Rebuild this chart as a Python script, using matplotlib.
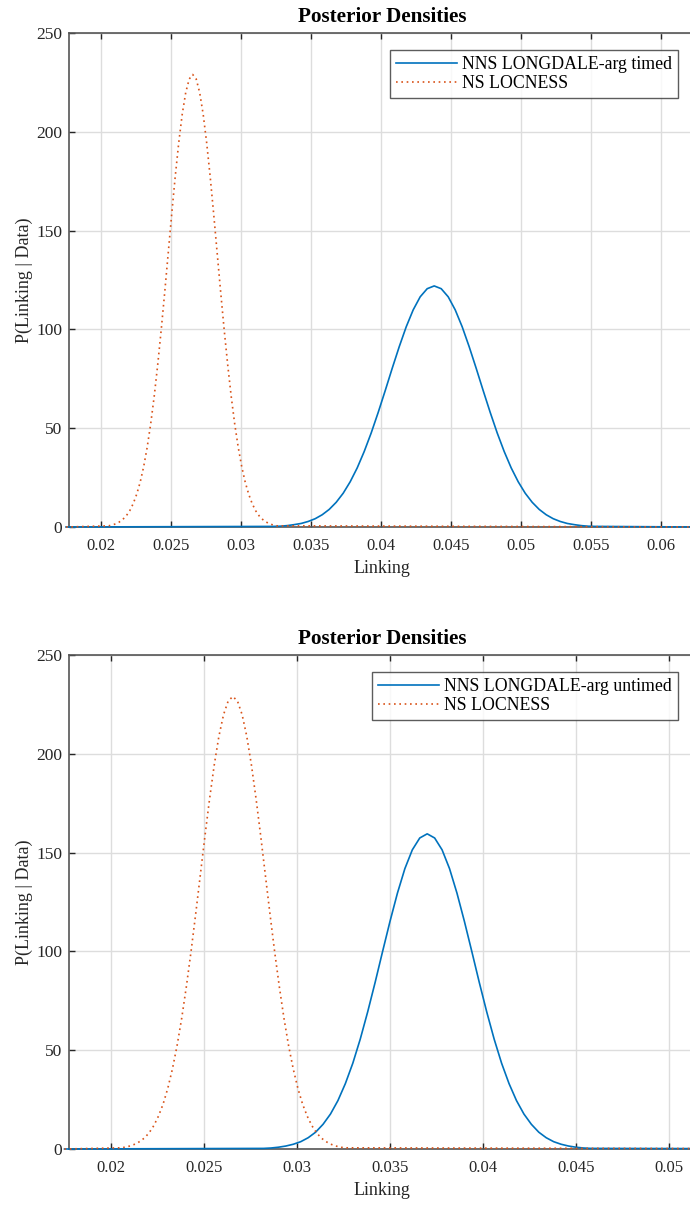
import matplotlib
matplotlib.use("Agg")
import matplotlib.pyplot as plt

plt.rcParams['font.family'] = ['Liberation Serif', 'DejaVu Serif']

# Values
# NS LOCNESS density (same in both panels)
ns_x = [0.0175, 0.02055, 0.0208, 0.02105, 0.0213, 0.02155, 0.0218, 0.02205, 0.0223, 0.02255,
        0.0228, 0.02305, 0.0233, 0.02355, 0.0238, 0.02405, 0.0243, 0.02455, 0.0248, 0.02505,
        0.0253, 0.02555, 0.0258, 0.02605, 0.0263, 0.02655, 0.0268, 0.02705, 0.0273, 0.02755,
        0.0278, 0.02805, 0.0283, 0.02855, 0.0288, 0.02905, 0.0293, 0.02955, 0.0298, 0.03005,
        0.0303, 0.03055, 0.0308, 0.03105, 0.0313, 0.03155, 0.0318, 0.03205, 0.0323, 0.03255,
        0.0625]
ns_y = [0.0, 0.6, 1.0, 1.6, 2.5, 3.8, 5.6, 8.2, 11.8, 16.6,
        22.7, 30.6, 40.4, 52.2, 66.1, 82.1, 99.7, 118.7, 138.5, 158.3,
        177.2, 194.3, 208.8, 219.8, 226.7, 229.0, 226.7, 219.8, 208.8, 194.3,
        177.2, 158.3, 138.5, 118.7, 99.7, 82.1, 66.1, 52.2, 40.4, 30.6,
        22.7, 16.6, 11.8, 8.2, 5.6, 3.8, 2.5, 1.6, 1.0, 0.6,
        0.0]

# NNS LONGDALE-arg timed density (top panel)
timed_x = [0.0175, 0.0323, 0.0328, 0.0333, 0.0338, 0.0343, 0.0348, 0.0353, 0.0358, 0.0363,
           0.0368, 0.0373, 0.0378, 0.0383, 0.0388, 0.0393, 0.0398, 0.0403, 0.0408, 0.0413,
           0.0418, 0.0423, 0.0428, 0.0433, 0.0438, 0.0443, 0.0448, 0.0453, 0.0458, 0.0463,
           0.0468, 0.0473, 0.0478, 0.0483, 0.0488, 0.0493, 0.0498, 0.0503, 0.0508, 0.0513,
           0.0518, 0.0523, 0.0528, 0.0533, 0.0538, 0.0543, 0.0548, 0.0553, 0.0625]
timed_y = [0.0, 0.3, 0.4, 0.7, 1.2, 1.8, 2.8, 4.2, 6.2, 8.9,
           12.5, 17.1, 22.9, 29.9, 38.2, 47.6, 58.0, 69.0, 80.3, 91.2,
           101.3, 109.9, 116.5, 120.6, 122.0, 120.6, 116.5, 109.9, 101.3, 91.2,
           80.3, 69.0, 58.0, 47.6, 38.2, 29.9, 22.9, 17.1, 12.5, 8.9,
           6.2, 4.2, 2.8, 1.8, 1.2, 0.7, 0.4, 0.3, 0.0]

# NNS LONGDALE-arg untimed density (bottom panel)
untimed_x = [0.0175, 0.0282, 0.0286, 0.0290, 0.0294, 0.0298, 0.0302, 0.0306, 0.0310, 0.0314,
             0.0318, 0.0322, 0.0326, 0.0330, 0.0334, 0.0338, 0.0342, 0.0346, 0.0350, 0.0354,
             0.0358, 0.0362, 0.0366, 0.0370, 0.0374, 0.0378, 0.0382, 0.0386, 0.0390, 0.0394,
             0.0398, 0.0402, 0.0406, 0.0410, 0.0414, 0.0418, 0.0422, 0.0426, 0.0430, 0.0434,
             0.0438, 0.0442, 0.0446, 0.0450, 0.0454, 0.0458, 0.0625]
untimed_y = [0.0, 0.3, 0.5, 0.9, 1.5, 2.4, 3.7, 5.7, 8.5, 12.5,
             17.7, 24.5, 33.1, 43.4, 55.6, 69.4, 84.3, 99.9, 115.2, 129.5,
             141.9, 151.4, 157.4, 159.5, 157.4, 151.4, 141.9, 129.5, 115.2, 99.9,
             84.3, 69.4, 55.6, 43.4, 33.1, 24.5, 17.7, 12.5, 8.5, 5.7,
             3.7, 2.4, 1.5, 0.9, 0.5, 0.3, 0.0]

top_ticks = [0.02, 0.025, 0.03, 0.035, 0.04, 0.045, 0.05, 0.055, 0.06]
bottom_ticks = [0.02, 0.025, 0.03, 0.035, 0.04, 0.045, 0.05]
y_ticks = [0, 50, 100, 150, 200, 250]

BLUE = '#0072BD'
ORANGE = '#D95319'
AXC = '#262626'


def draw_panel(ax, xs, ys, label, xlim, xticks):
    ax.plot(xs, ys, color=BLUE, lw=1.2, label=label, zorder=3, clip_on=False)
    ax.plot(ns_x, ns_y, color=ORANGE, lw=1.2, ls=(0, (1, 2.2)), label='NS LOCNESS',
            zorder=3, clip_on=False)
    ax.set_xlim(*xlim)
    ax.set_ylim(0, 250)
    ax.set_xticks(xticks)
    ax.set_xticklabels([('%g' % t) for t in xticks])
    ax.set_yticks(y_ticks)
    ax.grid(True, color='#dddddd', lw=1.0)
    ax.set_axisbelow(True)
    ax.tick_params(direction='in', top=True, right=False, length=4, width=1,
                   color=AXC, labelcolor=AXC, labelsize=12)
    ax.tick_params(axis='x', pad=8)
    ax.tick_params(axis='y', pad=5, labelsize=12.5)
    for side in ['left', 'bottom', 'top']:
        ax.spines[side].set_color('#555555')
        ax.spines[side].set_linewidth(1.2)
    ax.spines['right'].set_visible(False)
    ax.set_xlabel('Linking', fontsize=13, color=AXC, labelpad=4)
    ax.set_ylabel('P(Linking | Data)', fontsize=13, color=AXC, labelpad=2)
    ax.set_title('Posterior Densities', fontsize=15.2, fontweight='bold', pad=8)
    leg = ax.legend(loc='upper right', fontsize=12.8, frameon=True, fancybox=False,
                    handlelength=3.4, handletextpad=0.3, borderpad=0.35,
                    labelspacing=0.12, borderaxespad=0.95)
    leg.get_frame().set_edgecolor('#333333')
    leg.get_frame().set_linewidth(1.0)


fig = plt.figure(figsize=(6.9, 12.07), dpi=100)
ax1 = fig.add_axes([0.1, 1 - 527 / 1207, 626 / 690, 494 / 1207])
ax2 = fig.add_axes([0.1, 1 - 1149 / 1207, 626 / 690, 494 / 1207])

draw_panel(ax1, timed_x, timed_y, 'NNS LONGDALE-arg timed',
           (0.02 - 32 / 14000, 0.02 + 594 / 14000), top_ticks)
draw_panel(ax2, untimed_x, untimed_y, 'NNS LONGDALE-arg untimed',
           (0.02 - 42 / 18600, 0.02 + 584 / 18600), bottom_ticks)

fig.savefig('out.png', dpi=100)
